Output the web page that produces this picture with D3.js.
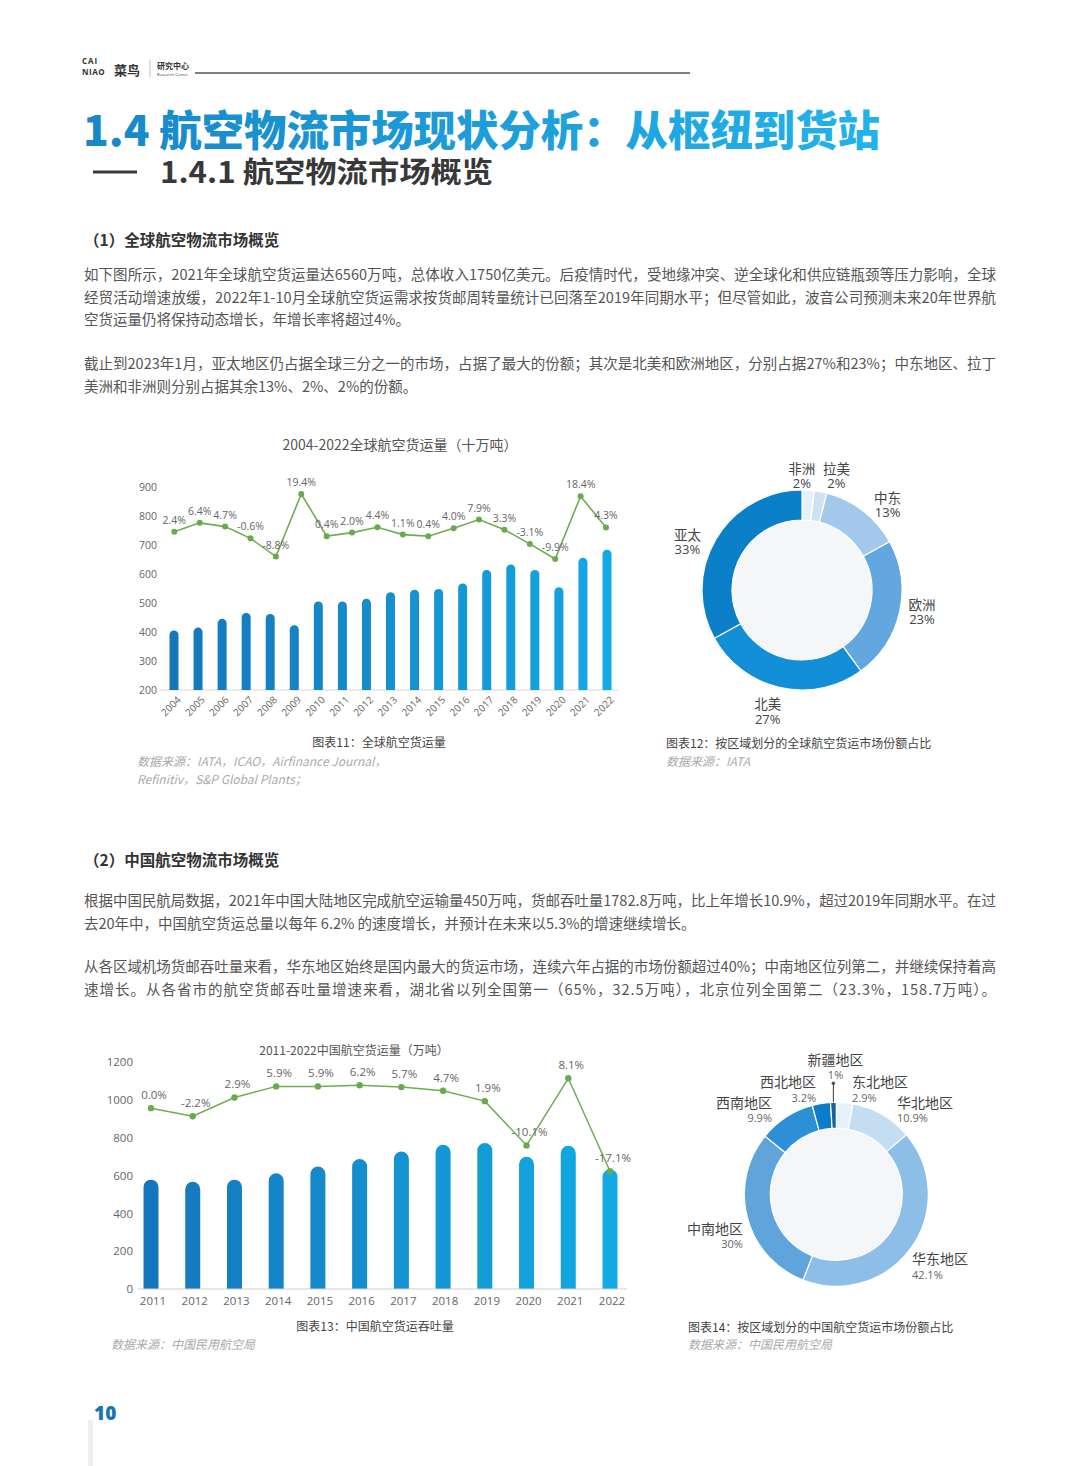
<!DOCTYPE html>
<html><head><meta charset="utf-8">
<script src="https://cdn.jsdelivr.net/npm/d3@7"></script>
<style>
html,body{margin:0;padding:0;background:#fff;}
svg{display:block;}
</style></head>
<body><svg id="page" width="1080" height="1466"></svg>
<script>
// ---------------- DATA ----------------
const years1 = ["2004","2005","2006","2007","2008","2009","2010","2011","2012","2013","2014","2015","2016","2017","2018","2019","2020","2021","2022"];
const volume1 = [405,415,445,465,462,423,505,505,514,537,545,548,567,613,632,613,554,655,683];
const growth1 = [2.4,6.4,4.7,-0.6,-8.8,19.4,0.4,2.0,4.4,1.1,0.4,4.0,7.9,3.3,-3.1,-9.9,18.4,4.3];
const yTicks1 = [200,300,400,500,600,700,800,900];

const years2 = ["2011","2012","2013","2014","2015","2016","2017","2018","2019","2020","2021","2022"];
const volume2 = [578,567,578,612,647,687,727,762,772,699,757,633];
const growth2 = [0.0,-2.2,2.9,5.9,5.9,6.2,5.7,4.7,1.9,-10.1,8.1,-17.1];
const yTicks2 = [0,200,400,600,800,1000,1200];

const regions1 = ["非洲","拉美","中东","欧洲","北美","亚太"];
const shares1 = [2,2,13,23,27,33];
const shareLabels1 = ["2%","2%","13%","23%","27%","33%"];

const regions2 = ["东北地区","华北地区","华东地区","中南地区","西南地区","西北地区","新疆地区"];
const shares2 = [2.9,10.9,42.1,30,9.9,3.2,1];
const shareLabels2 = ["2.9%","10.9%","42.1%","30%","9.9%","3.2%","1%"];

const title1 = "2004-2022全球航空货运量（十万吨）";
const title2 = "2011-2022中国航空货运量（万吨）";

// ---------------- STYLE / LAYOUT ----------------
const CJK = "'Noto Sans CJK SC','Noto Sans',sans-serif";
const NUM = "'Open Sans','Noto Sans CJK SC',sans-serif";
const svg = d3.select("#page");
svg.append("rect").attr("width",1080).attr("height",1466).attr("fill","#fff");

const defs = svg.append("defs");
const tg = defs.append("linearGradient").attr("id","titleGrad").attr("x1","0%").attr("x2","100%");
tg.append("stop").attr("offset","0%").attr("stop-color","#1787c9");
tg.append("stop").attr("offset","100%").attr("stop-color","#22b3ea");

// ---- header ----
const hdr = svg.append("g").attr("font-family",NUM).attr("fill","#333");
hdr.append("text").attr("x",82).attr("y",64).attr("font-size",8).attr("font-weight",700).attr("letter-spacing",1).text("CAI");
hdr.append("text").attr("x",82).attr("y",75).attr("font-size",8).attr("font-weight",700).attr("letter-spacing",0.5).text("NIAO");
hdr.append("text").attr("x",114).attr("y",75).attr("font-size",13).attr("font-weight",700).attr("font-family",CJK).text("菜鸟");
hdr.append("line").attr("x1",150).attr("x2",150).attr("y1",60).attr("y2",77).attr("stroke","#bbb");
hdr.append("text").attr("x",157).attr("y",69).attr("font-size",8).attr("font-weight",700).attr("font-family",CJK).text("研究中心");
hdr.append("text").attr("x",157).attr("y",76).attr("font-size",4).text("Research Center");
svg.append("line").attr("x1",195).attr("x2",690).attr("y1",73).attr("y2",73).attr("stroke","#555").attr("stroke-width",1.5);

// ---- titles ----
svg.append("text").attr("x",83).attr("y",146).attr("font-family",CJK).attr("font-weight",900)
  .attr("font-size",42).attr("fill","url(#titleGrad)").attr("textLength",797).attr("lengthAdjust","spacingAndGlyphs")
  .text("1.4 航空物流市场现状分析：从枢纽到货站");
svg.append("line").attr("x1",93).attr("x2",137).attr("y1",172).attr("y2",172).attr("stroke","#3a3a3a").attr("stroke-width",3);
svg.append("text").attr("x",160).attr("y",183).attr("font-family",CJK).attr("font-weight",700)
  .attr("font-size",29).attr("fill","#383838").attr("textLength",333).attr("lengthAdjust","spacingAndGlyphs")
  .text("1.4.1 航空物流市场概览");

// ---- body text ----
const sec1 = "（1）全球航空物流市场概览";
const sec2 = "（2）中国航空物流市场概览";
const para1 = [
 ["如下图所示，2021年全球航空货运量达6560万吨，总体收入1750亿美元。后疫情时代，受地缘冲突、逆全球化和供应链瓶颈等压力影响，全球", true],
 ["经贸活动增速放缓，2022年1-10月全球航空货运需求按货邮周转量统计已回落至2019年同期水平；但尽管如此，波音公司预测未来20年世界航", true],
 ["空货运量仍将保持动态增长，年增长率将超过4%。", false]
];
const para2 = [
 ["截止到2023年1月，亚太地区仍占据全球三分之一的市场，占据了最大的份额；其次是北美和欧洲地区，分别占据27%和23%；中东地区、拉丁", true],
 ["美洲和非洲则分别占据其余13%、2%、2%的份额。", false]
];
const para3 = [
 ["根据中国民航局数据，2021年中国大陆地区完成航空运输量450万吨，货邮吞吐量1782.8万吨，比上年增长10.9%，超过2019年同期水平。在过", true],
 ["去20年中，中国航空货运总量以每年 6.2% 的速度增长，并预计在未来以5.3%的增速继续增长。", false]
];
const para4 = [
 ["从各区域机场货邮吞吐量来看，华东地区始终是国内最大的货运市场，连续六年占据的市场份额超过40%；中南地区位列第二，并继续保持着高", true],
 ["速增长。从各省市的航空货邮吞吐量增速来看，湖北省以列全国第一（65%，32.5万吨），北京位列全国第二（23.3%，158.7万吨）。", true]
];
function heading(txt, y){
  svg.append("text").attr("x",84).attr("y",y).attr("font-family",CJK).attr("font-weight",700)
    .attr("font-size",15.5).attr("fill","#333").text(txt);
}
function para(lines, y0){
  lines.forEach((l,i)=>{
    const t = svg.append("text").attr("x",84).attr("y",y0+i*22.5).attr("font-family",CJK)
      .attr("font-size",14.5).attr("fill","#555").text(l[0]);
    if(l[1]) t.attr("textLength",912).attr("lengthAdjust","spacing");
  });
}
heading(sec1, 246);
para(para1, 280);
para(para2, 369);
heading(sec2, 866);
para(para3, 906);
para(para4, 972);

// ---------------- helpers ----------------
function roundTop(x, y, w, h){
  const r = Math.min(w/2, h);
  return `M${x},${y+h}V${y+r}A${r},${r} 0 0 1 ${x+w},${y+r}V${y+h}Z`;
}

// ---------------- CHART 1 ----------------
(function(){
  const g = svg.append("g");
  const x = d3.scalePoint().domain(years1).range([174,607]);
  const y = d3.scaleLinear().domain([200,900]).range([690,486.7]);
  const yP = d3.scaleLinear().domain([-69.0,22.7]).range([690,486.7]);
  const xL = d3.scalePoint().domain(d3.range(growth1.length)).range([174.3,606]);
  const col = d3.scaleLinear().domain([0,years1.length-1]).range(["#1675bb","#12a9e4"]).interpolate(d3.interpolateRgb);
  const bw = 9;

  g.append("text").attr("x",400).attr("y",450).attr("text-anchor","middle").attr("font-family",CJK)
    .attr("font-size",14).attr("fill","#555").text(title1);

  const ax = g.append("g").attr("transform","translate(160,0)")
    .call(d3.axisLeft(y).tickValues(yTicks1).tickSize(0).tickPadding(3).tickFormat(d3.format("d")));
  ax.select(".domain").remove();
  ax.selectAll("text").attr("font-family",NUM).attr("font-size",10.5).attr("fill","#666");

  g.append("line").attr("x1",160).attr("x2",618).attr("y1",690).attr("y2",690).attr("stroke","#d6d6d6");

  g.selectAll(".b1").data(volume1).join("path")
    .attr("d",(d,i)=>roundTop(x(years1[i])-bw/2, y(d), bw, y(200)-y(d)))
    .attr("fill",(d,i)=>col(i));

  g.selectAll(".xl1").data(years1).join("text")
    .attr("transform",d=>`translate(${x(d)+4},${697}) rotate(-45)`)
    .attr("text-anchor","end").attr("dy","0.5em").attr("font-family",NUM).attr("font-size",10).attr("fill","#666")
    .text(d=>d);

  const line = d3.line().x((d,i)=>xL(i)).y(d=>yP(d));
  g.append("path").datum(growth1).attr("d",line).attr("fill","none").attr("stroke","#6dad54").attr("stroke-width",1.6);
  g.selectAll(".p1").data(growth1).join("circle").attr("cx",(d,i)=>xL(i)).attr("cy",d=>yP(d)).attr("r",3).attr("fill","#69a94f");
  g.selectAll(".pl1").data(growth1).join("text")
    .attr("x",(d,i)=>xL(i)).attr("y",d=>yP(d)-8).attr("text-anchor","middle")
    .attr("font-family",NUM).attr("font-size",10.5).attr("fill","#666")
    .text(d=>d.toFixed(1)+"%");

  g.append("text").attr("x",379).attr("y",747).attr("text-anchor","middle").attr("font-family",CJK)
    .attr("font-size",12).attr("fill","#444").text("图表11：全球航空货运量");
  g.append("text").attr("x",137).attr("y",766).attr("font-family",CJK).attr("font-style","italic")
    .attr("font-size",12).attr("fill","#aaa").text("数据来源：IATA，ICAO，Airfinance Journal，");
  g.append("text").attr("x",137).attr("y",784).attr("font-family",CJK).attr("font-style","italic")
    .attr("font-size",12).attr("fill","#aaa").text("Refinitiv，S&P Global Plants；");
})();

// ---------------- DONUT 1 ----------------
(function(){
  const cx = 802, cy = 590, R = 100, r = 70;
  const colors = ["#e6f2fb","#cfe0f2","#a3c8ec","#62a7df","#128fd7","#0b7fc8"];
  const nudge = [[-8,11],[11,9],[9,14],[-2,-5],[-7,0],[-7,16]];
  const g = svg.append("g").attr("transform",`translate(${cx},${cy})`);
  const pie = d3.pie().sort(null).value(d=>d)(shares1);
  const arc = d3.arc().innerRadius(r).outerRadius(R);
  const lab = d3.arc().innerRadius(125).outerRadius(125);
  g.append("circle").attr("r",r).attr("fill","#f4f6f8");
  g.selectAll("path").data(pie).join("path").attr("d",arc).attr("fill",(d,i)=>colors[i])
    .attr("stroke","#fff").attr("stroke-width",1.2);
  pie.forEach((d,i)=>{
    const c = lab.centroid(d);
    const lx = c[0]+nudge[i][0], ly = c[1]+nudge[i][1];
    g.append("text").attr("x",lx).attr("y",ly-2.5).attr("text-anchor","middle").attr("font-family",CJK)
      .attr("font-size",13.5).attr("fill","#444").text(regions1[i]);
    g.append("text").attr("x",lx).attr("y",ly+12).attr("text-anchor","middle").attr("font-family",NUM)
      .attr("font-size",13).attr("fill","#444").text(shareLabels1[i]);
  });
  svg.append("text").attr("x",666).attr("y",748).attr("font-family",CJK)
    .attr("font-size",12).attr("fill","#444").text("图表12：按区域划分的全球航空货运市场份额占比");
  svg.append("text").attr("x",666).attr("y",766).attr("font-family",CJK).attr("font-style","italic")
    .attr("font-size",12).attr("fill","#aaa").text("数据来源：IATA");
})();

// ---------------- CHART 2 ----------------
(function(){
  const g = svg.append("g");
  const x = d3.scalePoint().domain(years2).range([151,610]);
  const y = d3.scaleLinear().domain([0,1200]).range([1289,1062]);
  const yP = d3.scaleLinear().domain([-49.03,12.51]).range([1289,1062]);
  const col = d3.scaleLinear().domain([0,years2.length-1]).range(["#1676bd","#13aae4"]).interpolate(d3.interpolateRgb);
  const bw = 15;

  g.append("text").attr("x",354).attr("y",1055).attr("text-anchor","middle").attr("font-family",CJK)
    .attr("font-size",12).attr("fill","#555").text(title2);

  const ax = g.append("g").attr("transform","translate(138,0)")
    .call(d3.axisLeft(y).tickValues(yTicks2).tickSize(0).tickPadding(5).tickFormat(d3.format("d")));
  ax.select(".domain").remove();
  ax.selectAll("text").attr("font-family",NUM).attr("font-size",11.5).attr("fill","#666");

  g.selectAll(".b2").data(volume2).join("path")
    .attr("d",(d,i)=>roundTop(x(years2[i])-bw/2, y(d), bw, y(0)-y(d)))
    .attr("fill",(d,i)=>col(i));
  g.append("line").attr("x1",138).attr("x2",627).attr("y1",1289).attr("y2",1289).attr("stroke","#d0d0d0").attr("stroke-width",1.2);

  g.selectAll(".xl2").data(years2).join("text")
    .attr("x",d=>x(d)+2).attr("y",1305).attr("text-anchor","middle").attr("font-family",NUM)
    .attr("font-size",11.5).attr("fill","#666").text(d=>d);

  const line = d3.line().x((d,i)=>x(years2[i])).y(d=>yP(d));
  g.append("path").datum(growth2).attr("d",line).attr("fill","none").attr("stroke","#6dad54").attr("stroke-width",1.5);
  g.selectAll(".p2").data(growth2).join("circle").attr("cx",(d,i)=>x(years2[i])).attr("cy",d=>yP(d)).attr("r",3.2).attr("fill","#69a94f");
  g.selectAll(".pl2").data(growth2).join("text")
    .attr("x",(d,i)=>x(years2[i])+3).attr("y",d=>yP(d)-9).attr("text-anchor","middle")
    .attr("font-family",NUM).attr("font-size",11.5).attr("fill","#666")
    .text(d=>d.toFixed(1)+"%");

  g.append("text").attr("x",375).attr("y",1331).attr("text-anchor","middle").attr("font-family",CJK)
    .attr("font-size",12).attr("fill","#444").text("图表13：中国航空货运吞吐量");
  g.append("text").attr("x",111).attr("y",1349).attr("font-family",CJK).attr("font-style","italic")
    .attr("font-size",12).attr("fill","#aaa").text("数据来源：中国民用航空局");
})();

// ---------------- DONUT 2 ----------------
(function(){
  const cx = 836.3, cy = 1194.3, R = 92, r = 66;
  const colors = ["#e4f0fa","#c4ddf2","#8dbee8","#5fa5dc","#2d8fd6","#0c7ec7","#1d5f99"];
  const anchors = ["start","start","start","end","end","end","middle"];
  const nudge = [[5.7,5.2],[5.6,11],[-14,8.4],[13,14],[-4.5,8.5],[-2.4,4.2],[2.7,-17]];
  const g = svg.append("g").attr("transform",`translate(${cx},${cy})`);
  const pie = d3.pie().sort(null).value(d=>d)(shares2);
  const arc = d3.arc().innerRadius(r).outerRadius(R);
  const lab = d3.arc().innerRadius(110).outerRadius(110);
  g.append("circle").attr("r",r).attr("fill","#f4f6f8");
  g.selectAll("path").data(pie).join("path").attr("d",arc).attr("fill",(d,i)=>colors[i])
    .attr("stroke","#fff").attr("stroke-width",1.2);
  pie.forEach((d,i)=>{
    const c = lab.centroid(d);
    const lx = c[0]+nudge[i][0], ly = c[1]+nudge[i][1];
    g.append("text").attr("x",lx).attr("y",ly-2.5).attr("text-anchor",anchors[i]).attr("font-family",CJK)
      .attr("font-size",14).attr("fill","#444").text(regions2[i]);
    g.append("text").attr("x",lx).attr("y",ly+12).attr("text-anchor",anchors[i]).attr("font-family",NUM)
      .attr("font-size",11).attr("fill","#666").text(shareLabels2[i]);
  });
  // leader for the smallest slice
  const last = pie[pie.length-1];
  const mid = (last.startAngle+last.endAngle)/2;
  const px = Math.sin(mid)*R, py = -Math.cos(mid)*R;
  g.append("line").attr("x1",px).attr("x2",px).attr("y1",py).attr("y2",py-19).attr("stroke","#555").attr("stroke-width",1.2);
  g.append("circle").attr("cx",px).attr("cy",py-19).attr("r",1.8).attr("fill","#555");

  svg.append("text").attr("x",688).attr("y",1332).attr("font-family",CJK)
    .attr("font-size",12).attr("fill","#444").text("图表14：按区域划分的中国航空货运市场份额占比");
  svg.append("text").attr("x",688).attr("y",1349).attr("font-family",CJK).attr("font-style","italic")
    .attr("font-size",12).attr("fill","#aaa").text("数据来源：中国民用航空局");
})();

// ---------------- page number ----------------
svg.append("rect").attr("x",88).attr("y",1420).attr("width",5).attr("height",46).attr("fill","#eeeeee");
svg.append("text").attr("x",94).attr("y",1420).attr("font-family",NUM).attr("font-weight",800)
  .attr("font-size",19).attr("fill","#1a74b4").text("10");
</script>
</body></html>
